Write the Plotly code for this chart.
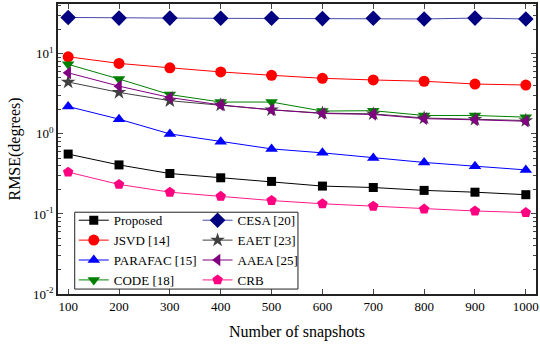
import plotly.graph_objects as go

snapshots = [100, 200, 300, 400, 500, 600, 700, 800, 900, 1000]
proposed = [0.56, 0.41, 0.32, 0.283, 0.255, 0.223, 0.214, 0.197, 0.187, 0.174]
jsvd = [9.2, 7.6, 6.7, 5.95, 5.4, 4.95, 4.72, 4.55, 4.2, 4.08]
parafac = [2.2, 1.53, 1.0, 0.8, 0.65, 0.58, 0.5, 0.44, 0.395, 0.355]
code = [7.4, 4.85, 3.1, 2.5, 2.5, 1.93, 1.95, 1.7, 1.7, 1.62]
cesa = [28.5, 28.0, 28.0, 27.8, 27.8, 27.6, 27.8, 27.3, 28.0, 27.3]
eaet = [4.45, 3.3, 2.6, 2.3, 2.0, 1.82, 1.78, 1.58, 1.52, 1.47]
aaea = [5.8, 3.95, 2.85, 2.3, 2.0, 1.8, 1.75, 1.55, 1.5, 1.44]
crb = [0.333, 0.234, 0.187, 0.166, 0.147, 0.134, 0.125, 0.115, 0.109, 0.104]

x_ticks = [100, 200, 300, 400, 500, 600, 700, 800, 900, 1000]
y_tickvals = [0.01, 0.1, 1, 10]
y_ticktext = ["10<sup>-2</sup>", "10<sup>-1</sup>", "10<sup>0</sup>", "10<sup>1</sup>"]

FONT = "Liberation Serif, Times New Roman, serif"

series = [
    ("Proposed", proposed, "#000000", "#000000", "square", 9, "legend"),
    ("JSVD [14]", jsvd, "#ff0000", "#ff0000", "circle", 11, "legend"),
    ("PARAFAC [15]", parafac, "#0000ff", "#0000ff", "triangle-up", 11, "legend"),
    ("CODE [18]", code, "#008000", "#008000", "triangle-down", 11, "legend"),
    ("CESA [20]", cesa, "#4848a8", "#000080", "diamond", 12, "legend2"),
    ("EAET [23]", eaet, "#404040", "#404040", "star", 11, "legend2"),
    ("AAEA [25]", aaea, "#800080", "#800080", "triangle-left", 11, "legend2"),
    ("CRB", crb, "#ff1a8c", "#ff0080", "pentagon", 11, "legend2"),
]

fig = go.Figure()
for name, vals, lc, mc, sym, sz, lg in series:
    fig.add_trace(go.Scatter(
        x=snapshots, y=vals, name=name, mode="lines+markers",
        line=dict(color=lc, width=1),
        marker=dict(symbol=sym, size=sz, color=mc, line=dict(width=0)),
        legend=lg,
    ))

fig.update_layout(
    width=540, height=346,
    margin=dict(l=58, r=2, t=3, b=52),
    paper_bgcolor="white", plot_bgcolor="white",
    font=dict(family=FONT, size=13, color="black"),
    showlegend=True,
    legend=dict(x=0.033, y=0.306, xanchor="left", yanchor="top",
                bgcolor="rgba(0,0,0,0)", borderwidth=0,
                font=dict(family=FONT, size=13), tracegroupgap=0,
                itemwidth=30),
    legend2=dict(x=0.292, y=0.306, xanchor="left", yanchor="top",
                 bgcolor="rgba(0,0,0,0)", borderwidth=0,
                 font=dict(family=FONT, size=13), tracegroupgap=0,
                 itemwidth=30),
    xaxis=dict(
        range=[80, 1020], tickvals=x_ticks, ticks="inside", ticklen=5,
        showline=True, linecolor="#222", linewidth=1.5, mirror="ticks",
        showgrid=False, zeroline=False,
        title=dict(text="Number of snapshots", font=dict(family=FONT, size=16), standoff=12),
        tickfont=dict(family=FONT, size=13),
    ),
    yaxis=dict(
        type="log", range=[-2, 1.623], tickvals=y_tickvals, ticktext=y_ticktext,
        ticks="inside", ticklen=5,
        minor=dict(ticks="inside", ticklen=3, dtick="D1", showgrid=False),
        showline=True, linecolor="#222", linewidth=1.5, mirror="ticks",
        showgrid=False, zeroline=False,
        title=dict(text="RMSE(degrees)", font=dict(family=FONT, size=16), standoff=8),
        tickfont=dict(family=FONT, size=13),
    ),
)

# legend frame
fig.add_shape(type="rect", xref="paper", yref="paper",
              x0=0.035, x1=0.502, y0=0.017, y1=0.282,
              line=dict(color="#222", width=1), fillcolor="rgba(0,0,0,0)")

fig.write_html("out.html", config={"displayModeBar": False},
               post_script="document.body.style.margin='0';")
